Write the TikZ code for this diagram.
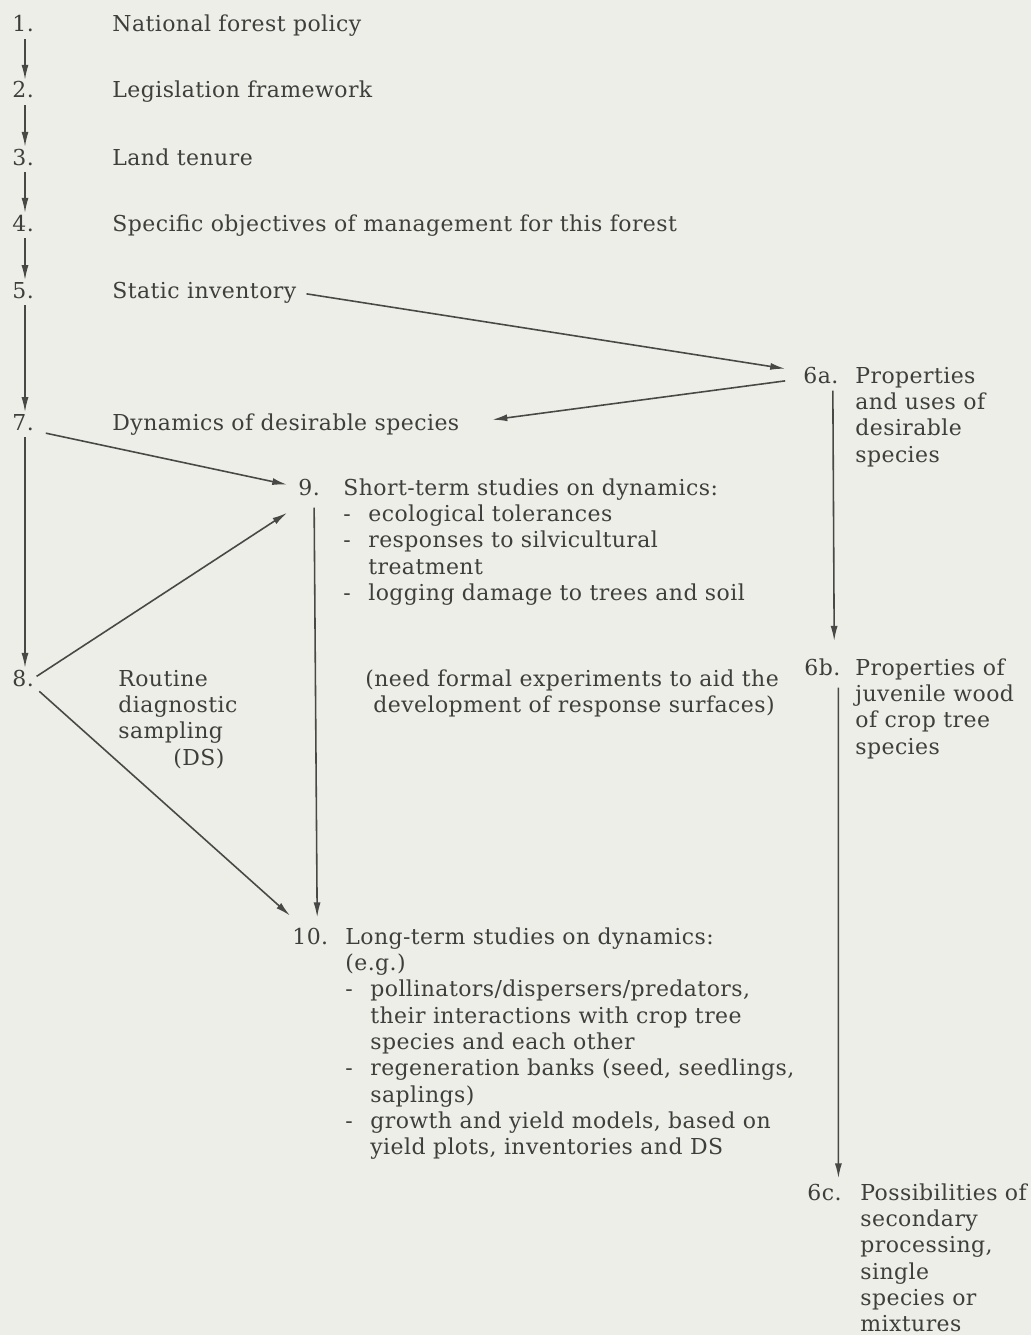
\documentclass[tikz,border=0pt]{standalone}
\usepackage{fontspec}
\setmainfont[LetterSpace=2.0]{DejaVu Serif}
\usetikzlibrary{arrows.meta}
\definecolor{paper}{RGB}{238,238,232}
\definecolor{ink}{RGB}{62,62,60}
\definecolor{pen}{RGB}{72,72,70}
\newcommand{\dashitem}{\makebox[0.5cm][l]{-}}
\newcommand{\indentitem}{\hspace*{0.5cm}}
\newcommand{\lines}[1]{\begin{tabular}[t]{@{}l@{}}#1\end{tabular}}
\tikzset{
  num/.style={inner sep=0pt, anchor=base west, text=ink},
  txt/.style={inner sep=0pt, anchor=base west, text=ink},
  arr/.style={draw=pen, line width=0.9pt, -{Latex[length=0.3cm,width=0.14cm]}},
  col/.style={arr, shorten <=0.13cm, shorten >=0.03cm}
}
\begin{document}
\begin{tikzpicture}[x=0.02cm,y=-0.02cm,font=\fontsize{12.5}{15}\selectfont]
                \fill[paper] (0,0) rectangle (1031,1335);
                \useasboundingbox (0,0) rectangle (1031,1335);
                %left column
                \coordinate (lx) at (25,0);
                \node[num] (n1) at (12,32) {1.};
                \node[num] (n2) at (12,98) {2.};
                \node[num] (n3) at (12,165) {3.};
                \node[num] (n4) at (12,231) {4.};
                \node[num] (n5) at (12,298) {5.};
                \node[num] (n7) at (12,430) {7.};
                \node[num] (n8) at (12,686) {8.};
                \node[txt] (t1) at (112,32) {National forest policy};
                \node[txt] (t2) at (112,98) {Legislation framework};
                \node[txt] (t3) at (112,165) {Land tenure};
                \node[txt] (t4) at (112,231) {Specific objectives of management for this forest};
                \node[txt] (t5) at (112,298) {Static inventory};
                \node[txt] (t7) at (112,430) {Dynamics of desirable species};
                \node[txt] (t8) at (118,686) {\lines{Routine\\diagnostic\\sampling\\\hspace*{1.1cm}(DS)}};
                %studies
                \node[num] (n9) at (298,495) {9.};
                \node[txt] (t9) at (343,495) {\lines{Short-term studies on dynamics:\\
                  \dashitem ecological tolerances\\
                  \dashitem responses to silvicultural\\
                  \indentitem treatment\\
                  \dashitem logging damage to trees and soil}};
                \node[txt] (note) at (365,686) {\lines{(need formal experiments to aid the\\
                  \hspace*{0.16cm}development of response surfaces)}};
                \node[num] (n10) at (292,944) {10.};
                \node[txt] (t10) at (345,944) {\lines{Long-term studies on dynamics:\\
                  (e.g.)\\
                  \dashitem pollinators/dispersers/predators,\\
                  \indentitem their interactions with crop tree\\
                  \indentitem species and each other\\
                  \dashitem regeneration banks (seed, seedlings,\\
                  \indentitem saplings)\\
                  \dashitem growth and yield models, based on\\
                  \indentitem yield plots, inventories and DS}};
                %properties
                \node[num] (n6a) at (803,383) {6a.};
                \node[txt] (t6a) at (855,383) {\lines{Properties\\and uses of\\desirable\\species}};
                \node[num] (n6b) at (804,675) {6b.};
                \node[txt] (t6b) at (855,675) {\lines{Properties of\\juvenile wood\\of crop tree\\species}};
                \node[num] (n6c) at (807,1200) {6c.};
                \node[txt] (t6c) at (860,1200) {\lines{Possibilities of\\secondary\\processing,\\single\\species or\\mixtures}};
                %connectors
                \draw[col] (n1.south -| lx) -- (n2.north -| lx);
                \draw[col] (n2.south -| lx) -- (n3.north -| lx);
                \draw[col] (n3.south -| lx) -- (n4.north -| lx);
                \draw[col] (n4.south -| lx) -- (n5.north -| lx);
                \draw[col] (n5.south -| lx) -- (n7.north -| lx);
                \draw[col] (n7.south -| lx) -- (n8.north -| lx);
                \draw[arr, shorten <=0.2cm, shorten >=0.36cm] (t5.east) -- ([yshift=0.07cm]n6a.west);
                \draw[arr, {Latex[length=0.3cm,width=0.14cm]}-, shorten <=0.66cm, shorten >=0.36cm] (t7.east) -- ([yshift=-0.07cm]n6a.west);
                \draw[arr, shorten <=0.24cm, shorten >=0.22cm] (n7.south east) -- (n9.west);
                \draw[arr, shorten <=0.06cm, shorten >=0.26cm] (n8.east) -- ([yshift=-0.2cm]n9.south west);
                \draw[arr, shorten <=0.14cm, shorten >=0.05cm] (n8.south east) -- ([yshift=0.2cm]n10.north west);
                \draw[arr, shorten <=0.24cm, shorten >=0.2cm] ([xshift=0.1cm]n9.south) -- ([xshift=0.14cm]n10.north);
                \draw[arr, shorten <=0.14cm, shorten >=0.34cm] ([xshift=0.24cm]n6a.south) -- ([xshift=0.24cm]n6b.north);
                \draw[arr, shorten <=0.24cm, shorten >=0.1cm] ([xshift=0.32cm]n6b.south) -- ([xshift=0.28cm]n6c.north);
\end{tikzpicture}
\end{document}
